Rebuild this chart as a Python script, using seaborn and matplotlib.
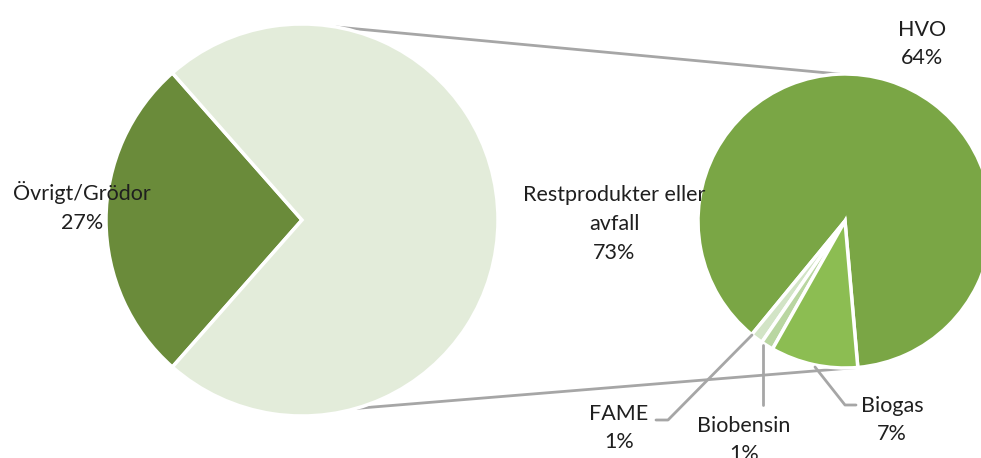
import numpy as np
import matplotlib
matplotlib.use("Agg")
import matplotlib.pyplot as plt
import seaborn as sns

# huvudcirkel
main_labels = ["Övrigt/Grödor", "Restprodukter eller\navfall"]
main_values = [27, 73]
main_colors = ["#6a8b3a", "#e3ecda"]

# delcirkel (andel av totalen)
sub_labels = ["HVO", "FAME", "Biobensin", "Biogas"]
sub_values = [64, 1, 1, 7]
sub_colors = ["#7aa645", "#d2e4c6", "#b9d6a1", "#8cbd52"]

sns.set_style("white")
plt.rcParams["font.family"] = ["Lato", "DejaVu Sans"]

W, H = 981, 458
fig = plt.figure(figsize=(W / 100, H / 100), dpi=100)
ax = fig.add_axes([0, 0, 1, 1])

c1, r1 = (302, H - 220), 196
c2, r2 = (845, H - 221), 147

start1 = 180 - main_values[0] / sum(main_values) * 180
ax.pie(main_values, colors=main_colors, center=c1, radius=r1, startangle=start1,
       frame=True, wedgeprops=dict(edgecolor="white", linewidth=2.5))
ax.pie(sub_values, colors=sub_colors, center=c2, radius=r2, startangle=-85,
       frame=True, wedgeprops=dict(edgecolor="white", linewidth=2.5))

ax.set_xlim(0, W)
ax.set_ylim(0, H)
ax.set_aspect("equal")
ax.axis("off")


def pt(c, r, ang):
    a = np.radians(ang)
    return c[0] + r * np.cos(a), c[1] + r * np.sin(a)


# förbindelselinjer
for a1, a2 in [(80, 92), (-74, -86)]:
    p1 = pt(c1, r1, a1)
    p2 = pt(c2, r2, a2)
    ax.plot([p1[0], p2[0]], [p1[1], p2[1]], color="#a6a6a6", lw=2, zorder=0)

fs = 15.5
ls = 1.55
tc = "#1f1f1f"
ax.text(82, H - 207, f"{main_labels[0]}\n{main_values[0]}%", ha="center", va="center",
        fontsize=fs, linespacing=ls, color=tc)
ax.text(614, H - 224, f"{main_labels[1]}\n{main_values[1]}%", ha="center", va="center",
        fontsize=fs, linespacing=ls, color=tc)
ax.text(922, H - 44, f"{sub_labels[0]}\n{sub_values[0]}%", ha="center", va="center",
        fontsize=fs, linespacing=ls, color=tc)

# etiketter med ledarlinjer
lead = [
    ([752, 668, 656], [335, 420, 420], (619, 428), sub_labels[1], sub_values[1]),
    ([763, 763], [345, 405], (744, 440), sub_labels[2], sub_values[2]),
    ([815, 845, 856], [367, 405, 405], (892, 420), sub_labels[3], sub_values[3]),
]
for xs, ys, (tx, ty), lab, val in lead:
    ax.plot(xs, [H - y for y in ys], color="#a6a6a6", lw=2, zorder=3)
    ax.text(tx, H - ty, f"{lab}\n{val}%", ha="center", va="center",
            fontsize=fs, linespacing=ls, color=tc)

fig.savefig("out.png", dpi=100)
